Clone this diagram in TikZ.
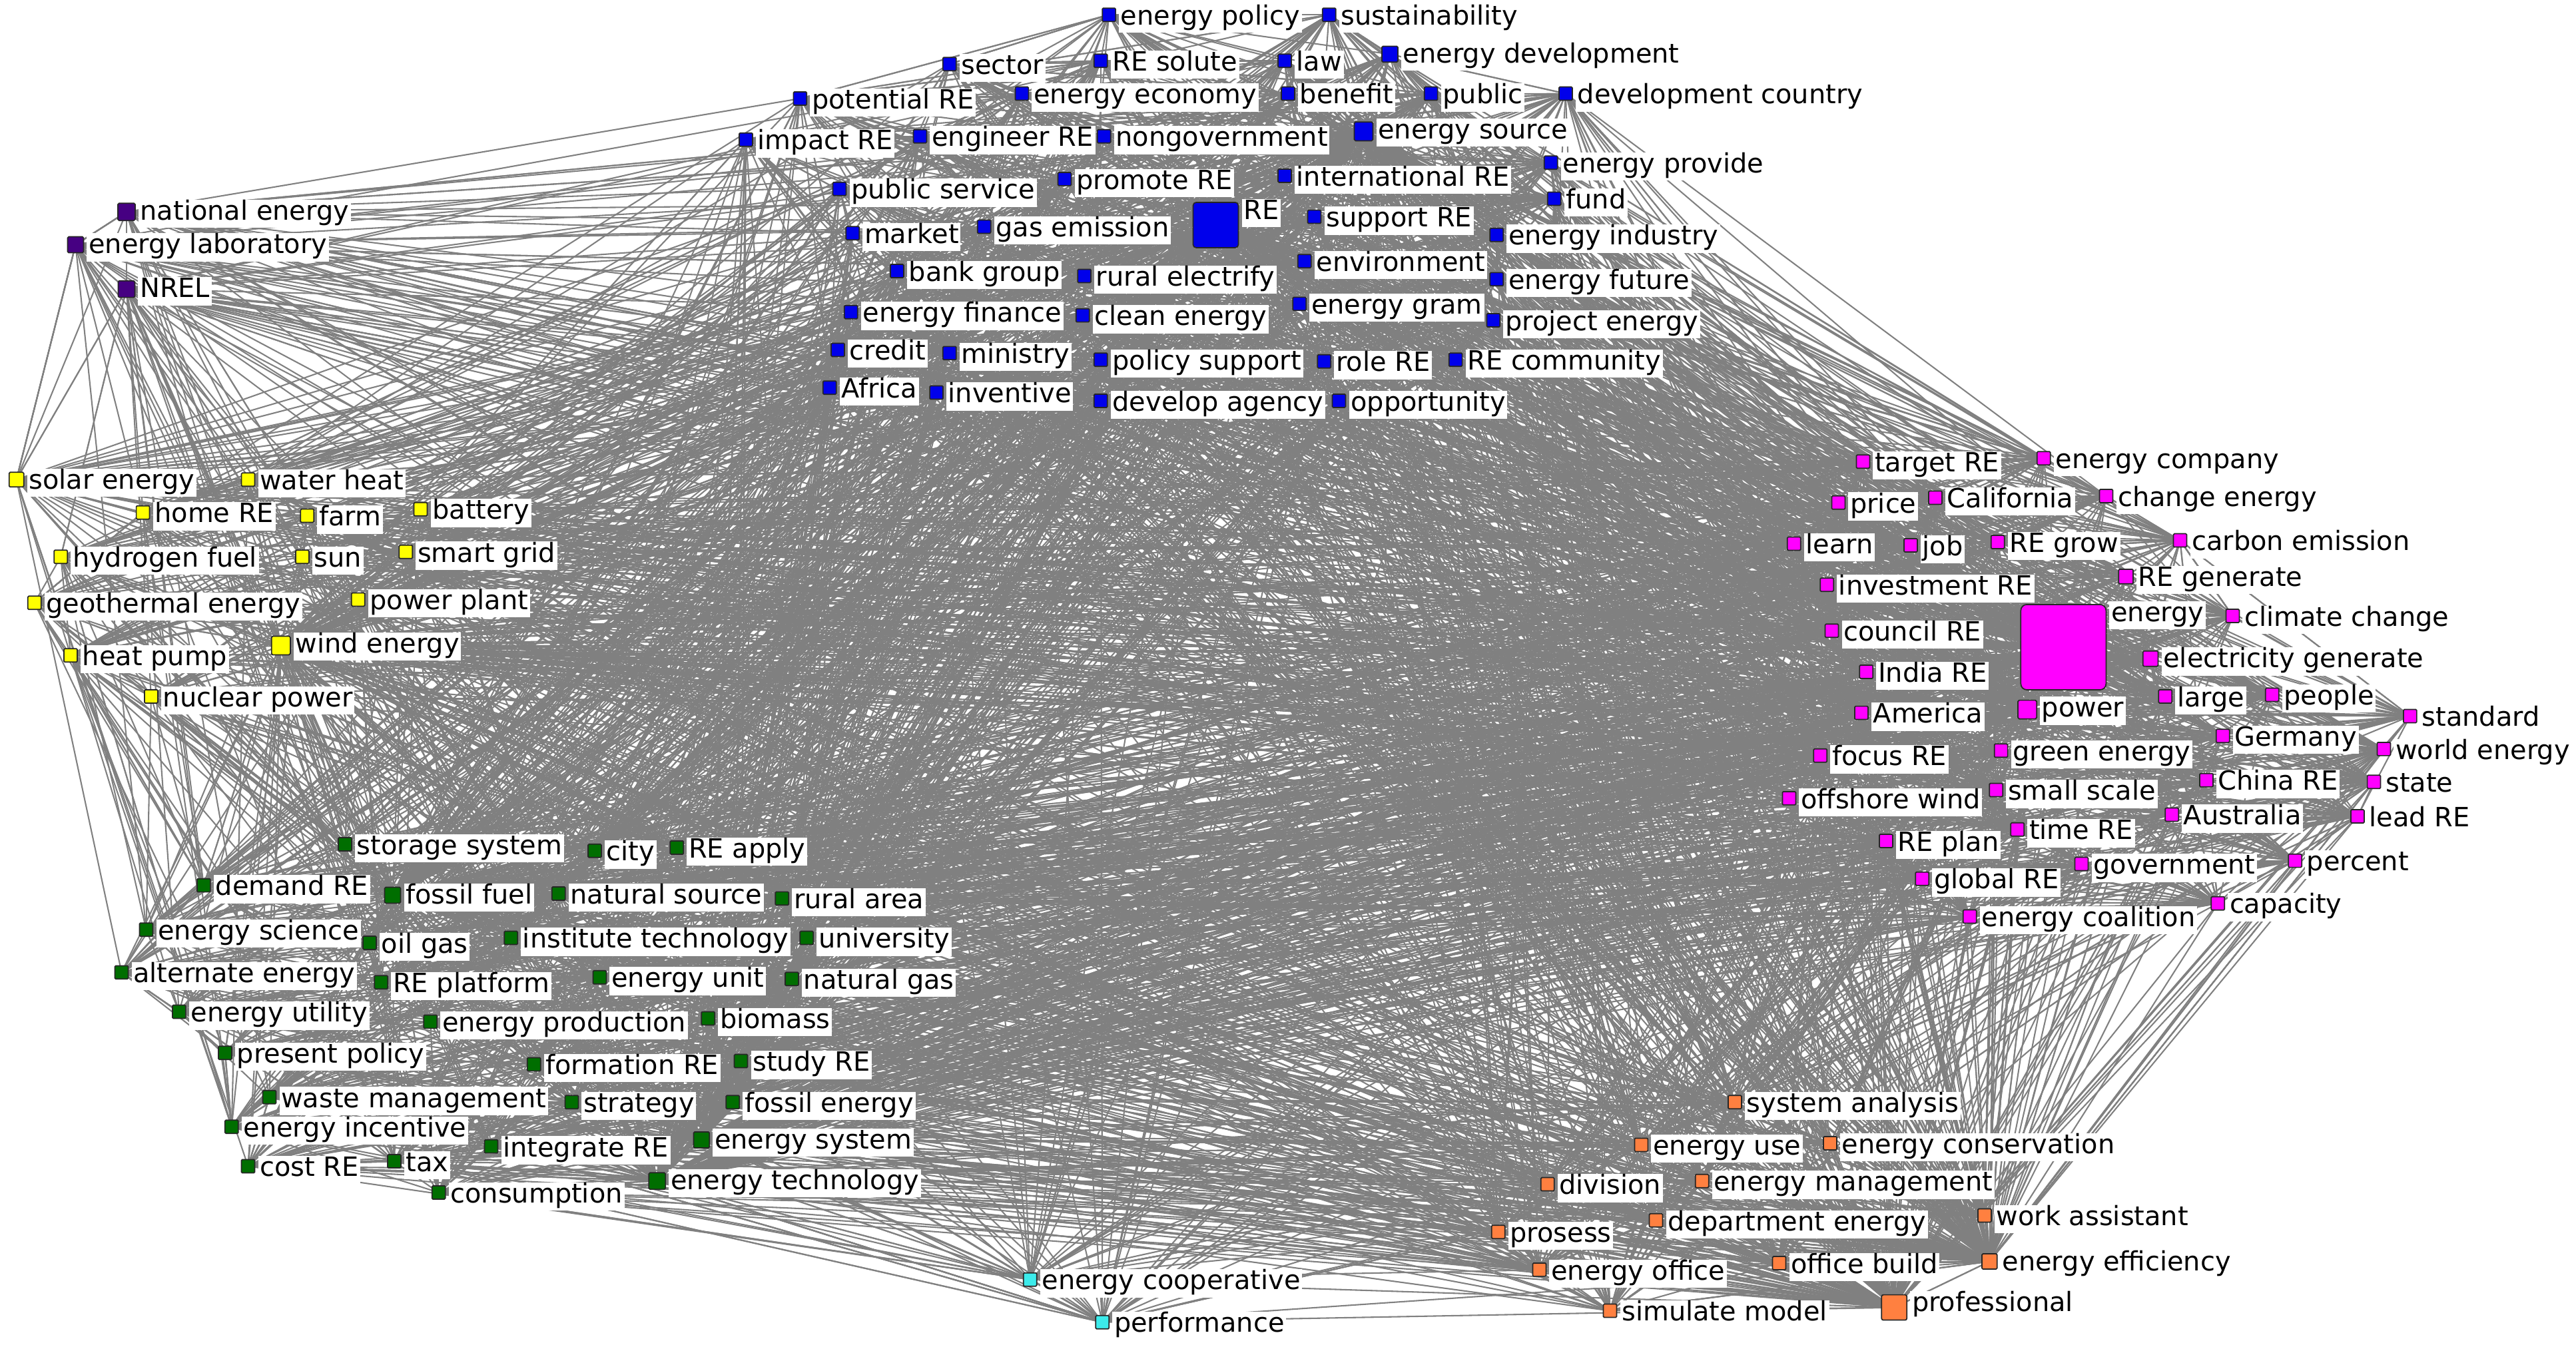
\documentclass[tikz,border=0pt]{standalone}
\usepackage{fontspec}
\setmainfont{DejaVu Sans}
\definecolor{reblue}{RGB}{0,0,235}
\definecolor{remagenta}{RGB}{255,0,255}
\definecolor{reyellow}{RGB}{255,255,0}
\definecolor{regreen}{RGB}{0,110,0}
\definecolor{reorange}{RGB}{255,128,64}
\definecolor{repurple}{RGB}{70,0,130}
\definecolor{recyan}{RGB}{60,235,235}
\definecolor{linkgray}{RGB}{128,128,128}
\pgfdeclarelayer{edges}
\pgfsetlayers{edges,main}
\tikzset{
  sq/.style={draw=black!85, line width=0.5pt, inner sep=0pt, minimum size=#1*0.025cm},
  lbl/.style={fill=white, inner xsep=0.8pt, inner ysep=1pt, text height=0.78em, text depth=0.24em,
    anchor=north west, font=\fontsize{11.5}{12}\selectfont},
  link/.style={draw=linkgray, line width=0.6pt}
}

\begin{document}
\begin{tikzpicture}[x=0.025cm,y=-0.025cm]
\useasboundingbox (0,0) rectangle (1568,821);
\foreach \x/\y/\c/\s/\t [count=\i] in {
675/9/reblue/8.1/energy policy, 809/9/reblue/8.1/sustainability, 578/39/reblue/8.1/sector,
670/37/reblue/8.1/RE solute, 782/37/reblue/8.1/law, 846/33/reblue/9.7/energy development,
487/60/reblue/8.1/potential RE, 622/57/reblue/8.1/energy economy, 784/57/reblue/8.1/benefit,
871/57/reblue/8.1/public, 953/57/reblue/8.1/development country, 454/85/reblue/8.1/impact RE,
560/83/reblue/8.1/engineer RE, 672/83/reblue/8.1/nongovernment, 830/80/reblue/11.4/energy source,
511/115/reblue/8.1/public service, 648/109/reblue/8.1/promote RE, 782/107/reblue/8.1/international RE,
944/99/reblue/8.1/energy provide, 946/121/reblue/8.1/fund, 519/142/reblue/8.1/market,
599/138/reblue/8.1/gas emission, 740/137/reblue/27.6/RE, 800/132/reblue/8.1/support RE,
911/143/reblue/8.1/energy industry, 546/165/reblue/8.1/bank group, 660/168/reblue/8.1/rural electrify,
794/159/reblue/8.1/environment, 518/190/reblue/8.1/energy finance, 659/192/reblue/8.1/clean energy,
791/185/reblue/8.1/energy gram, 911/170/reblue/8.1/energy future, 909/195/reblue/8.1/project energy,
510/213/reblue/8.1/credit, 578/215/reblue/8.1/ministry, 670/219/reblue/8.1/policy support,
806/220/reblue/8.1/role RE, 886/219/reblue/8.1/RE community, 505/236/reblue/8.1/Africa,
570/239/reblue/8.1/inventive, 670/244/reblue/8.1/develop agency, 815/244/reblue/8.1/opportunity,
77/129/repurple/10.5/national energy, 46/149/repurple/9.7/energy laboratory, 77/176/repurple/10.1/NREL,
10/292/reyellow/8.9/solar energy, 151/292/reyellow/8.1/water heat, 87/312/reyellow/8.1/home RE,
187/314/reyellow/8.1/farm, 256/310/reyellow/8.1/battery, 37/339/reyellow/8.1/hydrogen fuel,
184/339/reyellow/8.1/sun, 247/336/reyellow/8.1/smart grid, 21/367/reyellow/8.1/geothermal energy,
218/365/reyellow/8.1/power plant, 171/393/reyellow/11.4/wind energy, 43/399/reyellow/8.1/heat pump,
92/424/reyellow/8.1/nuclear power,
210/514/regreen/8.1/storage system, 362/518/regreen/8.1/city, 412/516/regreen/8.1/RE apply,
124/539/regreen/8.1/demand RE, 239/545/regreen/9.7/fossil fuel, 340/544/regreen/8.1/natural source,
476/547/regreen/8.1/rural area, 89/566/regreen/8.1/energy science, 225/574/regreen/8.1/oil gas,
311/571/regreen/8.1/institute technology, 491/571/regreen/8.1/university, 74/592/regreen/8.1/alternate energy,
232/598/regreen/8.1/RE platform, 365/595/regreen/8.1/energy unit, 482/596/regreen/8.1/natural gas,
109/616/regreen/8.1/energy utility, 262/622/regreen/8.1/energy production, 431/620/regreen/8.1/biomass,
137/641/regreen/8.1/present policy, 325/648/regreen/8.1/formation RE, 451/646/regreen/8.1/study RE,
164/668/regreen/8.1/waste management, 348/671/regreen/8.1/strategy, 446/671/regreen/8.1/fossil energy,
141/686/regreen/8.1/energy incentive, 427/694/regreen/9.7/energy system, 299/698/regreen/8.1/integrate RE,
151/710/regreen/8.1/cost RE, 240/707/regreen/8.1/tax, 267/726/regreen/8.1/consumption,
400/719/regreen/10.1/energy technology,
627/779/recyan/8.1/energy cooperative, 671/805/recyan/8.1/performance,
1056/671/reorange/8.1/system analysis, 999/697/reorange/8.1/energy use, 1114/696/reorange/8.1/energy conservation,
942/721/reorange/8.1/division, 1036/719/reorange/8.1/energy management, 912/750/reorange/8.1/prosess,
1008/743/reorange/8.1/department energy, 1208/740/reorange/8.1/work assistant, 937/773/reorange/8.1/energy office,
1083/769/reorange/8.1/office build, 1211/768/reorange/9.3/energy efficiency, 980/798/reorange/8.1/simulate model,
1153/796/reorange/15.4/professional,
1134/281/remagenta/8.1/target RE, 1244/279/remagenta/8.1/energy company, 1119/306/remagenta/8.1/price,
1178/303/remagenta/8.1/California, 1282/302/remagenta/8.1/change energy, 1092/331/remagenta/8.1/learn,
1163/332/remagenta/8.1/job, 1216/330/remagenta/8.1/RE grow, 1327/329/remagenta/8.1/carbon emission,
1112/356/remagenta/8.1/investment RE, 1294/351/remagenta/8.9/RE generate, 1256/394/remagenta/51.9/energy,
1359/375/remagenta/8.1/climate change, 1115/384/remagenta/8.1/council RE, 1309/401/remagenta/9.3/electricity generate,
1136/409/remagenta/8.1/India RE, 1318/424/remagenta/8.1/large, 1383/423/remagenta/8.1/people,
1467/436/remagenta/8.1/standard, 1133/434/remagenta/8.1/America, 1234/432/remagenta/11.4/power,
1353/448/remagenta/8.1/Germany, 1451/456/remagenta/8.1/world energy, 1108/460/remagenta/8.1/focus RE,
1218/457/remagenta/8.1/green energy, 1343/475/remagenta/8.1/China RE, 1445/476/remagenta/8.1/state,
1089/486/remagenta/8.1/offshore wind, 1215/481/remagenta/8.1/small scale, 1322/496/remagenta/8.1/Australia,
1435/497/remagenta/8.1/lead RE, 1148/512/remagenta/8.1/RE plan, 1228/505/remagenta/8.1/time RE,
1267/526/remagenta/8.1/government, 1397/524/remagenta/8.1/percent, 1170/535/remagenta/8.1/global RE,
1350/550/remagenta/8.1/capacity, 1199/558/remagenta/8.1/energy coalition}{
  \pgfmathsetmacro\rc{\s*0.05}
  \node[sq=\s, fill=\c, rounded corners=\rc pt] (n\i) at (\x,\y) {};
  \node[lbl] (l\i) at ([xshift=1pt,yshift=1.5pt]n\i.north east) {\t};
}
\pgfmathsetseed{2026}
\begin{pgfonlayer}{edges}
\foreach \i in {1,...,142}{
  \foreach \h in {116,23,125,104,102,63,56,89,15,84}{
    \draw[link] (n\i.center) -- (n\h.center);
  }
  \foreach \k in {1,...,15}{
    \pgfmathtruncatemacro\j{random(1,142)}
    \draw[link] (n\i.center) -- (n\j.center);
  }
  \foreach \k in {1,...,6}{
    \pgfmathtruncatemacro\j{max(1,min(142,\i+random(0,12)-6))}
    \draw[link] (n\i.center) -- (n\j.center);
  }
}
\end{pgfonlayer}
\end{tikzpicture}
\end{document}
